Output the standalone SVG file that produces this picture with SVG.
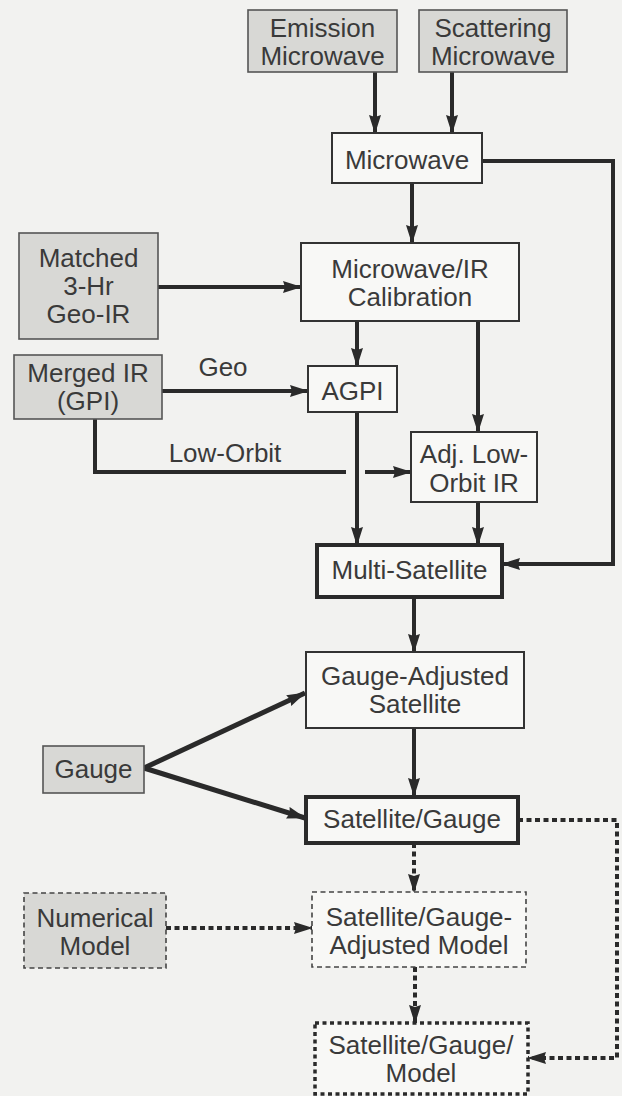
<svg xmlns="http://www.w3.org/2000/svg" width="622" height="1096" viewBox="0 0 622 1096">
<style>
text{font-family:"Liberation Sans",Arial,sans-serif;font-size:26px;fill:#3a3a3a;text-anchor:middle}
.w{fill:#f8f8f6;stroke:#333;stroke-width:2}
.g{fill:#d8d8d5;stroke:#555;stroke-width:1.6}
.thick{fill:#f8f8f6;stroke:#2a2a2a;stroke-width:4}
.dash{stroke:#444;stroke-width:1.6;stroke-dasharray:5 3.5}
.dot{fill:#f8f8f6;stroke:#2a2a2a;stroke-width:3.5;stroke-dasharray:4 3.5}
.c{fill:none;stroke:#2a2a2a;stroke-width:4}
.cg{fill:none;stroke:#2a2a2a;stroke-width:5}
.cd{fill:none;stroke:#2a2a2a;stroke-width:4;stroke-dasharray:5 3.5}
</style>
<defs>
<marker id="ah" markerUnits="userSpaceOnUse" markerWidth="19" markerHeight="13" refX="18" refY="6.5" orient="auto"><path d="M0,0.5 L19,6.5 L0,12.5 L2,6.5 z" fill="#2a2a2a"/></marker>
</defs>
<rect width="622" height="1096" fill="#f2f2f0"/>
<g id="connectors">
<path class="c" d="M375,72 V133" marker-end="url(#ah)"/>
<path class="c" d="M452,72 V133" marker-end="url(#ah)"/>
<path class="c" d="M412,183 V243" marker-end="url(#ah)"/>
<path class="c" d="M482,161 H613 V564 H502" marker-end="url(#ah)"/>
<path class="c" d="M158,287 H301" marker-end="url(#ah)"/>
<path class="c" d="M162,391 H308" marker-end="url(#ah)"/>
<path class="c" d="M357,321 V366" marker-end="url(#ah)"/>
<path class="c" d="M478,321 V432" marker-end="url(#ah)"/>
<path class="c" d="M95,419 V472 H346"/>
<path class="c" d="M365,472 H411" marker-end="url(#ah)"/>
<path class="c" d="M357,412 V545" marker-end="url(#ah)"/>
<path class="c" d="M478,502 V545" marker-end="url(#ah)"/>
<path class="c" d="M414,597 V652" marker-end="url(#ah)"/>
<path class="cg" d="M144,768 L305,693" marker-end="url(#ah)"/>
<path class="cg" d="M144,768 L305,818" marker-end="url(#ah)"/>
<path class="c" d="M414,728 V796" marker-end="url(#ah)"/>
<path class="cd" d="M414,843 V892" marker-end="url(#ah)"/>
<path class="cd" d="M518,820 H617 V1058 H528" marker-end="url(#ah)"/>
<path class="cd" d="M166,928 H312" marker-end="url(#ah)"/>
<path class="cd" d="M415,967 V1023" marker-end="url(#ah)"/>
</g>
<g id="emission"><rect class="g" x="248" y="10" width="149" height="62"/><text x="322.5" y="37">Emission</text><text x="322.5" y="65">Microwave</text></g>
<g id="scattering"><rect class="g" x="419" y="10" width="148" height="62"/><text x="493" y="37">Scattering</text><text x="493" y="65">Microwave</text></g>
<g id="microwave"><rect class="w" x="332" y="133" width="150" height="50"/><text x="407" y="169">Microwave</text></g>
<g id="calibration"><rect class="w" x="301" y="243" width="218" height="78"/><text x="410" y="278">Microwave/IR</text><text x="410" y="306">Calibration</text></g>
<g id="matched"><rect class="g" x="19" y="233" width="139" height="106"/><text x="88.5" y="267">Matched</text><text x="88.5" y="295">3-Hr</text><text x="88.5" y="323">Geo-IR</text></g>
<g id="merged"><rect class="g" x="14" y="355" width="148" height="64"/><text x="88" y="382">Merged IR</text><text x="88" y="410">(GPI)</text></g>
<g id="label-geo"><text x="223" y="376">Geo</text></g>
<g id="agpi"><rect class="w" x="308" y="366" width="89" height="46"/><text x="352.5" y="400">AGPI</text></g>
<g id="label-loworbit"><text x="225" y="462">Low-Orbit</text></g>
<g id="adj"><rect class="w" x="411" y="432" width="126" height="70"/><text x="474" y="463">Adj. Low-</text><text x="474" y="492">Orbit IR</text></g>
<g id="multisat"><rect class="thick" x="317" y="545" width="185" height="52"/><text x="409.5" y="579">Multi-Satellite</text></g>
<g id="gaugeadj"><rect class="w" x="306" y="652" width="218" height="76"/><text x="415" y="685">Gauge-Adjusted</text><text x="415" y="713">Satellite</text></g>
<g id="gauge"><rect class="g" x="43" y="746" width="101" height="47"/><text x="93.5" y="778">Gauge</text></g>
<g id="satgauge"><rect class="thick" x="306" y="797" width="212" height="46"/><text x="412" y="828">Satellite/Gauge</text></g>
<g id="numerical"><rect class="g dash" x="24" y="893" width="142" height="75"/><text x="95" y="927">Numerical</text><text x="95" y="955">Model</text></g>
<g id="sgam"><rect class="w dash" x="312" y="892" width="214" height="75"/><text x="419" y="926">Satellite/Gauge-</text><text x="419" y="954">Adjusted Model</text></g>
<g id="sgm"><rect class="dot" x="315" y="1023" width="213" height="71"/><text x="421" y="1054">Satellite/Gauge/</text><text x="421" y="1082">Model</text></g>
</svg>
